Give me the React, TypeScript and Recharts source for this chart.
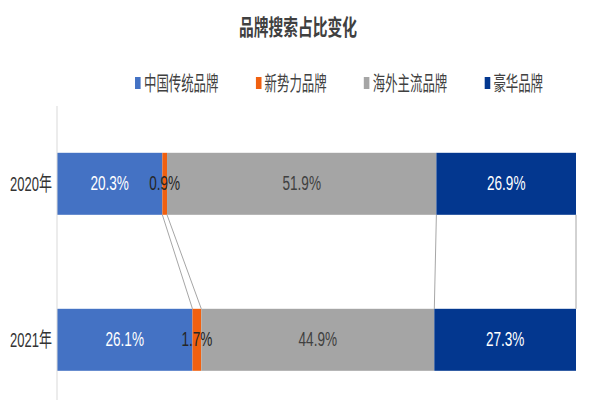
import { BarChart, Bar, XAxis, YAxis, LabelList } from "recharts";

const years = ["2020年", "2021年"];
const chinaBrands = [20.3, 26.1];
const newBrands = [0.9, 1.7];
const foreignBrands = [51.9, 44.9];
const luxuryBrands = [26.9, 27.3];

const seriesKeys = ["china", "newForce", "foreign", "luxury"];
const seriesNames = ["中国传统品牌", "新势力品牌", "海外主流品牌", "豪华品牌"];
const seriesColors = ["#4472C4", "#F06010", "#A5A5A5", "#03378F"];
const labelColors = ["#ffffff", "#262626", "#404040", "#ffffff"];

const data = years.map((year, i) => ({
  year,
  china: chinaBrands[i],
  newForce: newBrands[i],
  foreign: foreignBrands[i],
  luxury: luxuryBrands[i],
}));

const FONT = "'Liberation Sans', Arial, 'Noto Sans CJK SC', sans-serif";

type Box = { x: number; y: number; width: number; height: number };
const drawn: Record<string, Box[]> = {};

// bar segment + thin connector from last year's segment end to this year's
function linkedBar(key: string) {
  return (p: any) => {
    const { x, y, width, height, fill, index } = p;
    const rows = (drawn[key] ||= []);
    rows[index] = { x, y, width, height };
    const prev = index > 0 ? rows[index - 1] : undefined;
    return (
      <g>
        <rect x={x} y={y} width={width} height={height} fill={fill} />
        {prev && (
          <line
            x1={prev.x + prev.width}
            y1={prev.y + prev.height}
            x2={x + width}
            y2={y}
            stroke="#a6a6a6"
            strokeWidth={1}
          />
        )}
      </g>
    );
  };
}

function segmentLabel(color: string) {
  return (p: any) => {
    const vb = p.viewBox && p.viewBox.width !== undefined ? p.viewBox : p;
    const v = Array.isArray(p.value) ? p.value[1] - p.value[0] : p.value;
    const cx = vb.x + vb.width / 2;
    const cy = vb.y + vb.height / 2;
    return (
      <text
        transform={`translate(${cx},${cy}) scale(0.68,1)`}
        textAnchor="middle"
        dominantBaseline="central"
        fontSize={20}
        fontFamily={FONT}
        fill={color}
      >
        {Number(v).toFixed(1)}%
      </text>
    );
  };
}

function YearTick(p: any) {
  return (
    <text
      transform={`translate(${p.x},${p.y}) scale(0.65,1)`}
      textAnchor="end"
      dominantBaseline="central"
      fontSize={20}
      fontFamily={FONT}
      fill="#333333"
    >
      {p.payload.value}
    </text>
  );
}

export default function App() {
  return (
    <div
      style={{
        position: "fixed",
        left: 0,
        top: 0,
        width: 600,
        height: 400,
        overflow: "hidden",
        background: "#fff",
        fontFamily: FONT,
      }}
    >
      <div
        style={{
          position: "absolute",
          left: -2,
          width: 600,
          top: 11,
          textAlign: "center",
          fontSize: 22,
          lineHeight: "28px",
          fontWeight: "bold",
          color: "#404040",
          transform: "scaleX(0.67)",
          fontFamily: "'Noto Sans CJK SC', sans-serif",
        }}
      >
        品牌搜索占比变化
      </div>
      <div
        style={{
          position: "absolute",
          left: 339 - 400,
          width: 800,
          top: 70,
          display: "flex",
          justifyContent: "center",
          transform: "scaleX(0.62)",
          fontSize: 20,
          lineHeight: "25px",
          color: "#404040",
          fontFamily: "'Noto Sans CJK SC', sans-serif",
        }}
      >
        {seriesNames.map((name, i) => (
          <div
            key={name}
            style={{ display: "flex", alignItems: "center", marginLeft: i ? 60 : 0 }}
          >
            <span
              style={{
                display: "inline-block",
                width: 9,
                height: 12,
                marginRight: 5.5,
                background: seriesColors[i],
              }}
            />
            {name}
          </div>
        ))}
      </div>
      <div style={{ position: "absolute", left: 0, top: 0 }}>
        <BarChart
          width={600}
          height={420}
          data={data}
          layout="vertical"
          margin={{ top: 106, right: 24, left: 0, bottom: 2 }}
          barCategoryGap="30%"
        >
          <XAxis type="number" domain={[0, 100]} hide />
          <YAxis
            type="category"
            dataKey="year"
            width={57}
            axisLine={{ stroke: "#d9d9d9" }}
            tickLine={false}
            tickSize={0}
            tickMargin={5}
            tick={<YearTick />}
          />
          {seriesKeys.map((key, i) => (
            <Bar
              key={key}
              dataKey={key}
              name={seriesNames[i]}
              stackId="share"
              fill={seriesColors[i]}
              shape={linkedBar(key)}
              isAnimationActive={false}
            >
              <LabelList dataKey={key} content={segmentLabel(labelColors[i])} />
            </Bar>
          ))}
        </BarChart>
      </div>
    </div>
  );
}
